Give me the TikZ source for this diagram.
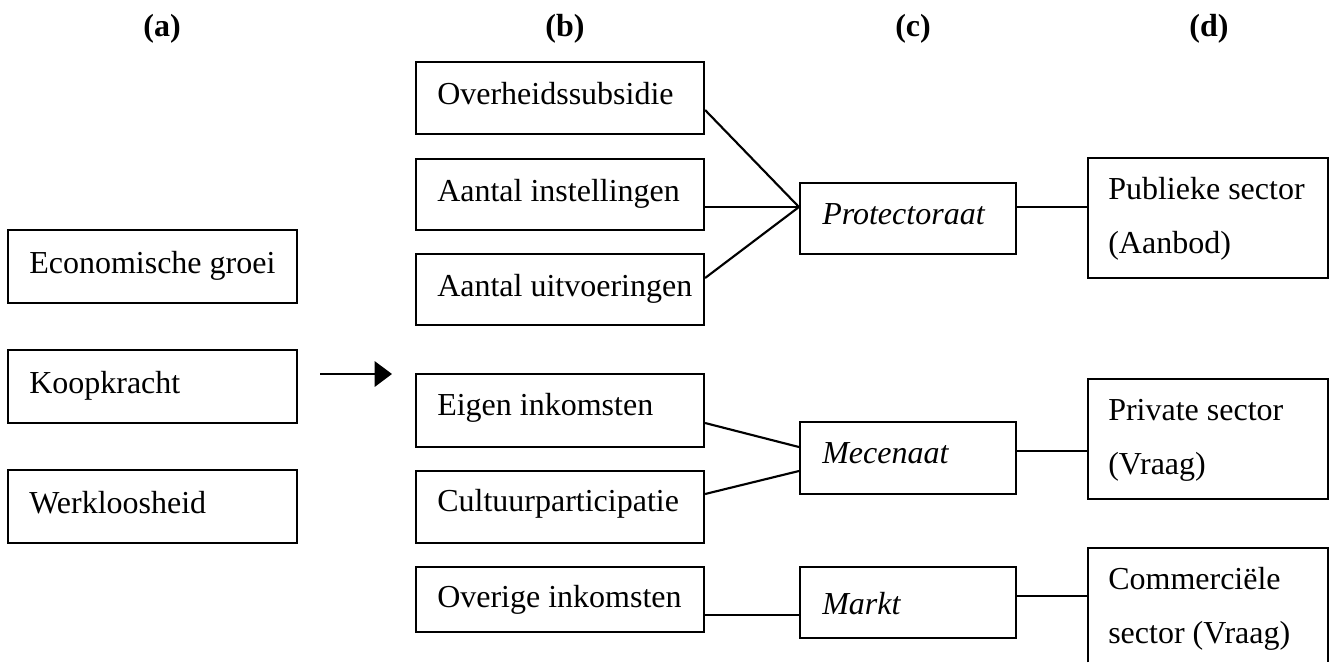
\documentclass[tikz,border=0pt]{standalone}
\usepackage{fontspec}
\setmainfont{Liberation Serif}
\usetikzlibrary{arrows.meta}
\newcommand\bxnode[5]{\node[boxs, minimum width={(#3-#2)*0.75pt}, minimum height={(#5-#4)*0.75pt}] (#1) at ({(#2+#3)/2},{(#4+#5)/2}) {};}
\begin{document}
\begin{tikzpicture}[x=0.75pt,y=-0.75pt,
  boxs/.style={draw, line width=1.6pt, inner sep=0pt, rectangle},
  openbox/.style={inner sep=0pt, rectangle},
  txt/.style={anchor=base west, inner sep=0pt, font=\fontsize{24}{29}\selectfont},
  itxt/.style={txt, font=\fontsize{24}{29}\selectfont\itshape},
  head/.style={anchor=base, inner sep=0pt, font=\fontsize{24}{29}\selectfont\bfseries},
  conn/.style={line width=1.6pt}]
\useasboundingbox (0,0) rectangle (1333,662);
% headers
\node[head] (ha) at (162,36) {(a)};
\node[head] (hb) at (565,36) {(b)};
\node[head] (hc) at (913,36) {(c)};
\node[head] (hd) at (1209,36) {(d)};
% column a
\bxnode{a1}{8}{297}{230}{303}
\bxnode{a2}{8}{297}{350}{423}
\bxnode{a3}{8}{297}{470}{543}
\node[txt] (ta1) at (29,273) {Economische groei};
\node[txt] (ta2) at (29,393) {Koopkracht};
\node[txt] (ta3) at (29,513) {Werkloosheid};
% column b
\bxnode{b1}{416}{704}{62}{134}
\bxnode{b2}{416}{704}{159}{230}
\bxnode{b3}{416}{704}{254}{325}
\bxnode{b4}{416}{704}{374}{447}
\bxnode{b5}{416}{704}{471}{543}
\bxnode{b6}{416}{704}{567}{632}
\node[txt] (tb1) at (437,104) {Overheidssubsidie};
\node[txt] (tb2) at (437,201) {Aantal instellingen};
\node[txt] (tb3) at (437,296) {Aantal uitvoeringen};
\node[txt] (tb4) at (437,415) {Eigen inkomsten};
\node[txt] (tb5) at (437,511) {Cultuurparticipatie};
\node[txt] (tb6) at (437,607) {Overige inkomsten};
% column c
\bxnode{c1}{800}{1016}{183}{254}
\bxnode{c2}{800}{1016}{422}{494}
\bxnode{c3}{800}{1016}{567}{638}
\node[itxt] (tc1) at (822,224) {Protectoraat};
\node[itxt] (tc2) at (822,463) {Mecenaat};
\node[itxt] (tc3) at (822,614) {Markt};
% column d
\bxnode{d1}{1088}{1328}{158}{278}
\bxnode{d2}{1088}{1328}{379}{499}
\node[openbox, minimum width={240*0.75pt}, minimum height={114*0.75pt}] (d3) at (1208,605) {};
\draw[line width=1.6pt] (d3.south west) -- (d3.north west) -- (d3.north east) -- (d3.south east);
\node[txt] (td1a) at (1108,199) {Publieke sector};
\node[txt] (td1b) at (1108,253) {(Aanbod)};
\node[txt] (td2a) at (1108,420) {Private sector};
\node[txt] (td2b) at (1108,474) {(Vraag)};
\node[txt] (td3a) at (1108,589) {Commerciële};
\node[txt] (td3b) at (1108,643) {sector (Vraag)};
% arrow
\coordinate (arS) at (320,374);
\coordinate (arE) at (392,374);
\draw[conn, -{Triangle[length=13pt,width=19pt]}] (arS) -- (arE);
% connectors
\draw[conn] ([yshift=-9pt]b1.east) -- ([yshift=8.625pt]c1.west);
\draw[conn] ([yshift=-9.375pt]b2.east) -- ([yshift=8.625pt]c1.west);
\draw[conn] ([yshift=8.625pt]b3.east) -- ([yshift=8.625pt]c1.west);
\draw[conn] ([yshift=8.625pt]c1.east) -- ([yshift=8.25pt]d1.west);
\draw[conn] ([yshift=-9.375pt]b4.east) -- ([yshift=8.25pt]c2.west);
\draw[conn] ([yshift=9.75pt]b5.east) -- ([yshift=-9.75pt]c2.west);
\draw[conn] ([yshift=5.25pt]c2.east) -- ([yshift=-9pt]d2.west);
\draw[conn] ([yshift=-11.625pt]b6.east) -- ([yshift=-9.375pt]c3.west);
\draw[conn] ([yshift=4.875pt]c3.east) -- ([yshift=6.75pt]d3.west);
\end{tikzpicture}
\end{document}
